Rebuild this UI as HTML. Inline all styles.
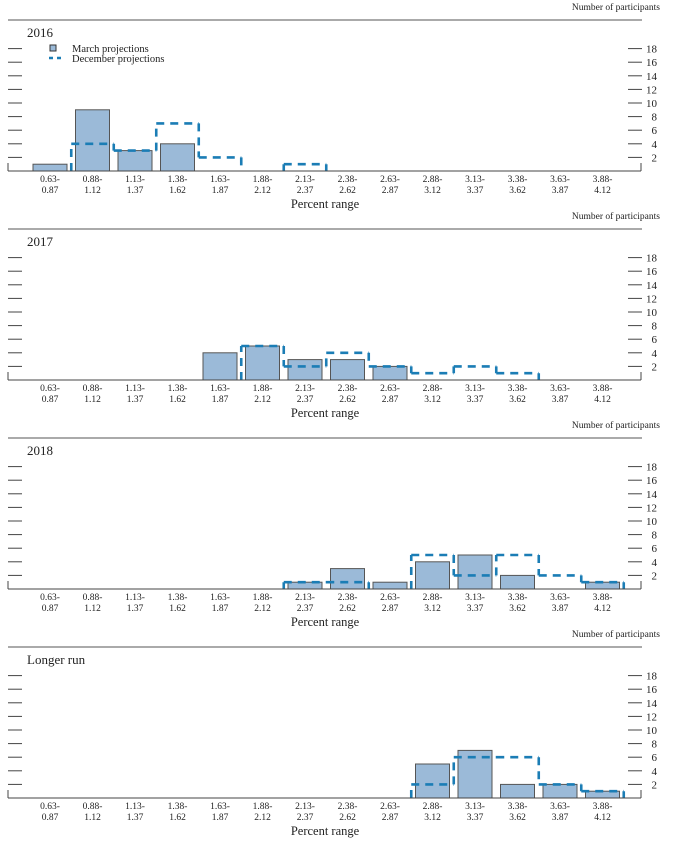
<!DOCTYPE html>
<html><head><meta charset="utf-8"><style>
body{margin:0;background:#fff}
svg{display:block}
text{font-family:"Liberation Serif",serif;fill:#222}
</style></head><body>
<svg id="c" width="674" height="848"></svg>
<script>
const categories=["0.63-0.87","0.88-1.12","1.13-1.37","1.38-1.62","1.63-1.87","1.88-2.12","2.13-2.37","2.38-2.62","2.63-2.87","2.88-3.12","3.13-3.37","3.38-3.62","3.63-3.87","3.88-4.12"];
const panelTitles=["2016","2017","2018","Longer run"];
const march2016=[1,9,3,4,0,0,0,0,0,0,0,0,0,0];
const dec2016=[0,4,3,7,2,0,1,0,0,0,0,0,0,0];
const march2017=[0,0,0,0,4,5,3,3,2,0,0,0,0,0];
const dec2017=[0,0,0,0,0,5,2,4,2,1,2,1,0,0];
const march2018=[0,0,0,0,0,0,1,3,1,4,5,2,0,1];
const dec2018=[0,0,0,0,0,0,1,1,0,5,2,5,2,1];
const marchLR=[0,0,0,0,0,0,0,0,0,5,7,2,2,1];
const decLR=[0,0,0,0,0,0,0,0,0,2,6,6,2,1];
const yTicks=[2,4,6,8,10,12,14,16,18];
const marchSeries=[march2016,march2017,march2018,marchLR];
const decSeries=[dec2016,dec2017,dec2018,decLR];

const NS="http://www.w3.org/2000/svg";
const svg=document.getElementById('c');
function mk(tag,attrs,parent){const e=document.createElementNS(NS,tag);for(const k in attrs)e.setAttribute(k,attrs[k]);(parent||svg).appendChild(e);return e;}
const binW=42.5, x0=50;
function xC(i){return x0+binW*i;}
function yS(v,base){return base-v*6.8;}

panelTitles.forEach((title,p)=>{
  const top=20+209*p, base=171+209*p;
  const g=mk('g',{});
  
  
  let t=mk('text',{x:660,y:top-10,'font-size':9.5,'text-anchor':'end'},g);t.textContent='Number of participants';
  
  let r=mk('line',{x1:8,x2:642,y1:top,y2:top,stroke:'#777','stroke-width':1.3},g);
  
  t=mk('text',{x:27,y:top+17,'font-size':13},g);t.textContent=title;
  
  // ticks
  yTicks.forEach(v=>{
    const y=yS(v,base);
    let l=mk('line',{x1:8,x2:22,y1:y,y2:y,stroke:'#444','stroke-width':1},g);
    
    l=mk('line',{x1:628,x2:642,y1:y,y2:y,stroke:'#444','stroke-width':1},g);
    
    const tt=mk('text',{x:657,y:y+4,'font-size':11,'text-anchor':'end'},g);tt.textContent=v;
    
  });
  mk('line',{x1:8,x2:8,y1:base-8,y2:base,stroke:'#444'},g);
  mk('line',{x1:641,x2:641,y1:base-8,y2:base,stroke:'#444'},g);
  // bars
  marchSeries[p].forEach((v,i)=>{
    if(v<=0)return;
    const b=mk('rect',{x:xC(i)-17,y:yS(v,base),width:34,height:v*6.8,fill:'#9bbad8',stroke:'#555','stroke-width':1},g);
    
  });
  // dec step
  const d=decSeries[p];let path='';
  for(let i=0;i<d.length;i++){
    const L=xC(i)-binW/2,R=xC(i)+binW/2;
    const prev=i>0?d[i-1]:0;
    if(prev!==d[i]) path+=`M${L},${yS(prev,base)}L${L},${yS(d[i],base)}`;
    if(d[i]>0) path+=`M${L},${yS(d[i],base)}L${R},${yS(d[i],base)}`;
  }
  const last=d[d.length-1];
  if(last>0){const R=xC(d.length-1)+binW/2;path+=`M${R},${yS(last,base)}L${R},${base}`;}
  const dp=mk('path',{d:path,fill:'none',stroke:'#1b7db5','stroke-width':2.6,'stroke-dasharray':'8,6'},g);
  
  let ax=mk('line',{x1:8,x2:641,y1:base,y2:base,stroke:'#444','stroke-width':1},g);
  
  categories.forEach((c,i)=>{
    const [a,b]=c.split('-');
    const lt=mk('text',{x:xC(i),y:base+11,'font-size':9.5,'text-anchor':'middle'},g);lt.textContent=a+'-';
    
    const lb=mk('text',{x:xC(i),y:base+22,'font-size':9.5,'text-anchor':'middle'},g);lb.textContent=b;
    
  });
  t=mk('text',{x:325,y:base+37,'font-size':12.5,'text-anchor':'middle'},g);t.textContent='Percent range';
  
  if(p===0){
    const lg=mk('g',{},g);
    
    mk('rect',{x:50,y:45,width:6,height:6,fill:'#9bbad8',stroke:'#333','stroke-width':1},lg);
    let lt=mk('text',{x:72,y:52,'font-size':10.5},lg);lt.textContent='March projections';
    
    mk('line',{x1:49,x2:64,y1:58,y2:58,stroke:'#1b7db5','stroke-width':2.4,'stroke-dasharray':'4,4'},lg);
    lt=mk('text',{x:72,y:62,'font-size':10.5},lg);lt.textContent='December projections';
    
  }
});
</script>
</body></html>
